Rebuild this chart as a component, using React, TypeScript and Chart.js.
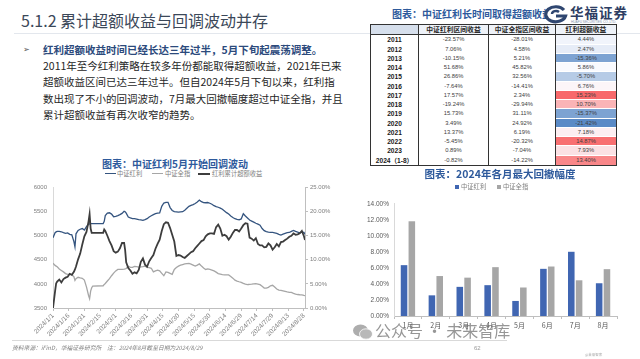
import React, { useEffect, useRef } from 'react';
import { Chart, registerables } from 'chart.js';

Chart.register(...registerables);

// ---------------- line chart data ----------------
const lineDates = [
  '2024/1/1', '2024/1/3', '2024/1/4', '2024/1/5', '2024/1/7', '2024/1/9', '2024/1/11', '2024/1/13', '2024/1/15', '2024/1/17', '2024/1/19', '2024/1/21', '2024/1/22', '2024/1/23', '2024/1/25', '2024/1/27', '2024/1/29', '2024/1/31',
  '2024/2/2', '2024/2/4', '2024/2/5', '2024/2/6', '2024/2/7', '2024/2/8', '2024/2/18', '2024/2/19', '2024/2/20', '2024/2/22', '2024/2/24', '2024/2/26', '2024/2/28',
  '2024/3/1', '2024/3/3', '2024/3/5', '2024/3/7', '2024/3/9', '2024/3/10', '2024/3/11', '2024/3/13', '2024/3/15', '2024/3/17', '2024/3/19', '2024/3/21', '2024/3/23', '2024/3/25', '2024/3/27', '2024/3/29', '2024/3/31',
  '2024/4/2', '2024/4/4', '2024/4/6', '2024/4/8', '2024/4/10', '2024/4/12', '2024/4/14', '2024/4/16', '2024/4/18', '2024/4/20', '2024/4/22', '2024/4/24', '2024/4/26', '2024/4/28', '2024/4/30',
  '2024/5/2', '2024/5/4', '2024/5/6', '2024/5/8', '2024/5/10', '2024/5/12', '2024/5/14', '2024/5/16', '2024/5/18', '2024/5/20', '2024/5/22', '2024/5/24', '2024/5/26', '2024/5/28', '2024/5/30',
  '2024/6/1', '2024/6/3', '2024/6/5', '2024/6/7', '2024/6/9', '2024/6/11', '2024/6/13', '2024/6/15', '2024/6/17', '2024/6/19', '2024/6/21', '2024/6/23', '2024/6/25', '2024/6/27', '2024/6/29',
  '2024/7/1', '2024/7/3', '2024/7/5', '2024/7/6', '2024/7/7', '2024/7/9', '2024/7/11', '2024/7/13', '2024/7/15', '2024/7/17', '2024/7/19', '2024/7/21', '2024/7/23', '2024/7/25', '2024/7/27', '2024/7/29', '2024/7/31',
  '2024/8/2', '2024/8/4', '2024/8/6', '2024/8/8', '2024/8/10', '2024/8/12', '2024/8/14', '2024/8/16', '2024/8/18', '2024/8/20', '2024/8/22', '2024/8/24', '2024/8/26', '2024/8/28', '2024/8/29',
];

// 中证红利 (left axis)
const dividendIndex = [
  4960, 5065, 5080, 5090, 5093, 5083, 5065, 5050, 5060, 5030, 5018, 4880, 4770, 5040, 5110, 5135, 5150, 5120,
  5190, 5240, 5245, 5253, 5253, 5253, 5253, 5300, 5420, 5470, 5478, 5450, 5395,
  5402, 5420, 5440, 5465, 5508, 5500, 5470, 5390, 5370, 5354, 5354, 5345, 5334, 5328, 5320, 5335, 5354,
  5390, 5415, 5440, 5460, 5470, 5475, 5610, 5680, 5694, 5694, 5585, 5525, 5500, 5495, 5490,
  5495, 5500, 5530, 5570, 5610, 5630, 5647, 5670, 5700, 5740, 5708, 5690, 5685, 5690, 5675,
  5655, 5625, 5605, 5592, 5575, 5550, 5515, 5480, 5450, 5410, 5380, 5354, 5340, 5330, 5350,
  5456, 5410, 5370, 5350, 5328, 5305, 5283, 5260, 5240, 5219, 5150, 5105, 5085, 5075, 5069, 5069, 5060,
  5048, 5030, 5015, 5032, 5050, 5063, 5068, 5090, 5110, 5090, 5075, 5062, 5075, 5070, 5030,
];

// 中证全指 (left axis)
const allShareIndex = [
  4430, 4385, 4370, 4355, 4310, 4280, 4250, 4215, 4200, 4200, 4190, 4150, 4075, 4110, 4137, 4125, 4118, 4080,
  3940, 3760, 3695, 3850, 3920, 3955, 3962, 3990, 4010, 4060, 4110, 4170, 4225,
  4270, 4300, 4302, 4300, 4305, 4312, 4320, 4365, 4345, 4345, 4365, 4360, 4350, 4352, 4360, 4370, 4345,
  4340, 4325, 4250, 4270, 4285, 4270, 4220, 4170, 4250, 4240, 4220, 4200, 4300, 4340, 4370,
  4390, 4403, 4415, 4420, 4424, 4410, 4390, 4370, 4390, 4415, 4370, 4330, 4300, 4310, 4300,
  4288, 4270, 4245, 4215, 4205, 4195, 4188, 4186, 4186, 4155, 4120, 4077, 4060, 4045, 4032,
  4010, 3995, 3985, 3988, 3990, 3996, 4003, 4005, 3998, 3985, 3950, 3915, 3912, 3928, 3960, 3972, 3935,
  3895, 3872, 3865, 3855, 3846, 3835, 3826, 3826, 3805, 3790, 3780, 3775, 3772, 3760, 3755,
];

// 红利累计超额收益 (%; right axis)
const cumulativeExcess = [
  0, 3.5, 5.1, 5.5, 5.9, 5.3, 6.0, 6.3, 6.5, 7.1, 6.9, 7.5, 8.0, 8.6, 10.1, 11.3, 13.2, 14.9,
  15.8, 18.0, 19.5, 16.5, 15.6, 15.6, 15.6, 16.3, 16.0, 15.0, 13.9, 13.0, 11.8,
  11.5, 11.7, 12.4, 13.5, 13.5, 12.0, 9.5, 8.3, 7.8, 7.1, 7.4, 7.2, 7.9, 9.6, 10.3, 9.0, 8.6,
  9.7, 10.4, 11.0, 12.3, 13.3, 14.2, 16.0, 17.4, 17.8, 17.7, 16.6, 15.2, 13.8, 10.8, 11.0,
  10.9, 10.6, 10.4, 10.8, 11.2, 11.6, 11.8, 12.4, 12.9, 13.4, 13.9, 14.1, 14.9, 15.3, 15.5,
  15.5, 15.4, 16.8, 17.3, 16.5, 15.0, 15.2, 14.9, 14.2, 14.8, 15.6, 16.2, 16.2, 15.9, 16.5,
  17.2, 17.6, 17.5, 16.0, 14.6, 14.4, 14.0, 14.5, 13.3, 13.0, 13.0, 12.6, 12.7, 13.4, 13.0, 12.1, 12.6,
  13.3, 12.8, 13.7, 13.8, 14.1, 14.4, 14.8, 15.0, 15.5, 15.2, 15.3, 15.5, 16.0, 14.9, 14.1,
];

const lineTickLabels = [
  '2024/1/1', '2024/1/16', '2024/1/31', '2024/2/15', '2024/3/1', '2024/3/16', '2024/3/31', '2024/4/15', '2024/4/30',
  '2024/5/15', '2024/5/30', '2024/6/14', '2024/6/29', '2024/7/14', '2024/7/29', '2024/8/13', '2024/8/28',
];
const lineAxisEnd = '2024/8/29';

// ---------------- bar chart data ----------------
const barMonths = ['1月', '2月', '3月', '4月', '5月', '6月', '7月', '8月'];
const barDividend = [6.35, 2.58, 3.64, 3.85, 1.88, 5.89, 8.02, 4.09];
const barAllShare = [11.83, 4.99, 4.79, 6.10, 3.56, 6.18, 4.46, 5.85];

// ---------------- table data ----------------
const tableHeaders = ['', '中证红利区间收益', '中证全指区间收益', '红利超额收益'];
const tableYears = ['2011', '2012', '2013', '2014', '2015', '2016', '2017', '2018', '2019', '2020', '2021', '2022', '2023', '2024（1-8）'];
const tableDividend = [-23.57, 7.06, -10.15, 51.68, 26.86, -7.64, 17.57, -19.24, 15.73, 3.49, 13.37, -5.45, 0.89, -0.82];
const tableAllShare = [-28.01, 4.58, 5.21, 45.82, 32.56, -14.41, 2.34, -29.94, 31.11, 24.92, 6.19, -20.32, -7.04, -14.22];
const tableExcess = [4.44, 2.47, -15.36, 5.86, -5.70, 6.76, 15.23, 10.70, -15.37, -21.42, 7.18, 14.87, 7.93, 13.40];

// ---------------- helpers ----------------
const CJK = '"Noto Sans CJK SC", "Liberation Sans", sans-serif';
const NUM = '"Liberation Sans", "Noto Sans CJK SC", sans-serif';

function dayOf(s: string): number {
  const [y, m, d] = s.split('/').map(Number);
  return Math.round((Date.UTC(y, m - 1, d) - Date.UTC(2024, 0, 1)) / 86400000);
}

function heatColor(v: number): string {
  const sorted = [...tableExcess].sort((a, b) => a - b);
  const n = sorted.length;
  const mid = n % 2 ? sorted[(n - 1) / 2] : (sorted[n / 2 - 1] + sorted[n / 2]) / 2;
  const min = sorted[0];
  const max = sorted[n - 1];
  const white = [252, 252, 255];
  const red = [248, 105, 107];
  const blue = [90, 138, 198];
  let t: number;
  let target: number[];
  if (v >= mid) {
    t = (v - mid) / (max - mid);
    target = red;
  } else {
    t = (mid - v) / (mid - min);
    target = blue;
  }
  const c = white.map((w, i) => Math.round(w + (target[i] - w) * t));
  return `rgb(${c[0]},${c[1]},${c[2]})`;
}

const pct = (v: number) => v.toFixed(2) + '%';

// ---------------- components ----------------
function LineChart() {
  const ref = useRef<HTMLCanvasElement>(null);
  useEffect(() => {
    const xs = lineDates.map(dayOf);
    const tickFont = { family: NUM, size: 6 };
    const chart = new Chart(ref.current as HTMLCanvasElement, {
      type: 'line',
      data: {
        datasets: [
          {
            label: '中证红利',
            data: xs.map((x, i) => ({ x, y: dividendIndex[i] })),
            borderColor: '#34547F',
            borderWidth: 1.3,
            pointRadius: 0,
            yAxisID: 'y',
            order: 1,
          },
          {
            label: '中证全指',
            data: xs.map((x, i) => ({ x, y: allShareIndex[i] })),
            borderColor: '#A6A6A6',
            borderWidth: 1.3,
            pointRadius: 0,
            yAxisID: 'y',
            order: 2,
          },
          {
            label: '红利累计超额收益',
            data: xs.map((x, i) => ({ x, y: cumulativeExcess[i] })),
            borderColor: '#3D3D3D',
            borderWidth: 1.8,
            pointRadius: 0,
            yAxisID: 'y1',
            order: 0,
          },
        ],
      },
      options: {
        animation: false,
        responsive: false,
        maintainAspectRatio: false,
        layout: { padding: { top: 7, left: 0, right: 0, bottom: 0 } },
        plugins: { legend: { display: false }, tooltip: { enabled: false } },
        scales: {
          x: {
            type: 'linear',
            min: dayOf(lineDates[0]),
            max: dayOf(lineAxisEnd),
            afterBuildTicks: (s: any) => {
              s.ticks = lineTickLabels.map((l) => ({ value: dayOf(l) }));
            },
            ticks: {
              autoSkip: false,
              minRotation: 45,
              maxRotation: 45,
              padding: 1,
              font: { family: NUM, size: 6.5 },
              color: '#7F7F7F',
              callback: (_v: any, i: number) => lineTickLabels[i],
            },
            grid: { display: true, drawOnChartArea: false, tickLength: 3, color: '#BFBFBF' },
            border: { color: '#BFBFBF' },
            afterFit: (s: any) => {
              s.height = 35;
            },
          },
          y: {
            position: 'left',
            min: 3500,
            max: 6000,
            ticks: {
              stepSize: 500,
              font: tickFont,
              color: '#7F7F7F',
              padding: 6,
              callback: (v: any) => String(v),
            },
            grid: { display: false, drawTicks: false },
            border: { color: '#D9D9D9' },
            afterFit: (s: any) => {
              s.width = 53;
            },
          },
          y1: {
            position: 'right',
            min: 0,
            max: 25,
            ticks: {
              stepSize: 5,
              font: tickFont,
              color: '#7F7F7F',
              padding: 2,
              callback: (v: any) => Number(v).toFixed(2) + '%',
            },
            grid: { display: true, drawOnChartArea: false, tickLength: 3, color: '#BFBFBF' },
            border: { color: '#BFBFBF' },
            afterFit: (s: any) => {
              s.width = 40;
            },
          },
        },
      },
    } as any);
    return () => chart.destroy();
  }, []);
  return (
    <canvas
      ref={ref}
      width={345}
      height={165}
      style={{ position: 'absolute', left: 0, top: 178, width: 345, height: 165 }}
    />
  );
}

function BarChart() {
  const ref = useRef<HTMLCanvasElement>(null);
  useEffect(() => {
    const chart = new Chart(ref.current as HTMLCanvasElement, {
      type: 'bar',
      data: {
        labels: barMonths,
        datasets: [
          {
            label: '中证红利',
            data: barDividend,
            backgroundColor: '#4066B2',
            categoryPercentage: 0.56,
            barPercentage: 0.84,
          },
          {
            label: '中证全指',
            data: barAllShare,
            backgroundColor: '#A6A6A6',
            categoryPercentage: 0.56,
            barPercentage: 0.84,
          },
        ],
      },
      options: {
        animation: false,
        responsive: false,
        maintainAspectRatio: false,
        layout: { padding: { top: 7, right: 13, left: 0, bottom: 0 } },
        plugins: { legend: { display: false }, tooltip: { enabled: false } },
        scales: {
          x: {
            grid: { display: true, drawOnChartArea: false, tickLength: 3, color: '#BFBFBF' },
            border: { color: '#BFBFBF' },
            ticks: { font: { family: CJK, size: 7 }, color: '#595959', padding: 2 },
            afterFit: (s: any) => {
              s.height = 20;
            },
          },
          y: {
            min: 0,
            max: 14,
            ticks: {
              stepSize: 2,
              font: { family: NUM, size: 6.5 },
              color: '#595959',
              padding: 5,
              callback: (v: any) => Number(v).toFixed(2) + '%',
            },
            grid: { display: false, drawTicks: false },
            border: { color: '#D9D9D9' },
            afterFit: (s: any) => {
              s.width = 54;
            },
          },
        },
      },
    } as any);
    return () => chart.destroy();
  }, []);
  return (
    <canvas
      ref={ref}
      width={290}
      height={141}
      style={{ position: 'absolute', left: 340, top: 195, width: 290, height: 141 }}
    />
  );
}

function DataTable() {
  const colW = [48, 70, 67, 60];
  const headerH = 9.3;
  const rowH = 9.26;
  const cellBase: React.CSSProperties = {
    boxSizing: 'border-box',
    textAlign: 'center',
    whiteSpace: 'nowrap',
    overflow: 'hidden',
  };
  return (
    <div
      style={{
        position: 'absolute',
        left: 370,
        top: 24,
        width: colW.reduce((a, b) => a + b, 0) + 2,
        border: '1px solid #333',
        boxSizing: 'border-box',
        background: '#fff',
      }}
    >
      <div style={{ display: 'flex', height: headerH, borderBottom: '1px solid #333', boxSizing: 'content-box' }}>
        {tableHeaders.map((h, i) => (
          <div
            key={i}
            style={{
              ...cellBase,
              width: colW[i],
              height: headerH,
              lineHeight: headerH + 'px',
              fontFamily: CJK,
              fontSize: 6.8,
              fontWeight: 700,
              color: '#262626',
              background: i === 0 ? '#D6DFEC' : '#EEF2F8',
              borderRight: i < 3 ? '1px solid #333' : 'none',
            }}
          >
            {h}
          </div>
        ))}
      </div>
      {tableYears.map((y, r) => (
        <div key={y} style={{ display: 'flex', height: rowH }}>
          <div
            style={{
              ...cellBase,
              width: colW[0],
              lineHeight: rowH + 'px',
              fontFamily: NUM,
              fontSize: 6.6,
              fontWeight: 700,
              color: '#1a1a1a',
              borderRight: '1px solid #333',
            }}
          >
            {y}
          </div>
          <div
            style={{
              ...cellBase,
              width: colW[1],
              lineHeight: rowH + 'px',
              fontFamily: NUM,
              fontSize: 5.8,
              color: '#404040',
              borderRight: '1px solid #333',
            }}
          >
            {pct(tableDividend[r])}
          </div>
          <div
            style={{
              ...cellBase,
              width: colW[2],
              lineHeight: rowH + 'px',
              fontFamily: NUM,
              fontSize: 5.8,
              color: '#404040',
              borderRight: '1px solid #333',
            }}
          >
            {pct(tableAllShare[r])}
          </div>
          <div
            style={{
              ...cellBase,
              width: colW[3],
              lineHeight: rowH + 'px',
              fontFamily: NUM,
              fontSize: 5.8,
              color: '#404040',
              background: heatColor(tableExcess[r]),
              borderBottom: r < tableYears.length - 1 ? '0.5px solid #fff' : 'none',
            }}
          >
            {pct(tableExcess[r])}
          </div>
        </div>
      ))}
    </div>
  );
}

function Logo() {
  return (
    <div style={{ position: 'absolute', left: 543, top: 3, width: 97, height: 24, background: 'transparent' }}>
      <svg width="26" height="20" viewBox="0 0 26 20" style={{ position: 'absolute', left: 0, top: 1 }}>
        <ellipse cx="13" cy="10" rx="11.5" ry="8.5" fill="#fff" />
        <path d="M21 6 A10 7.5 0 1 0 22.5 12 L13 12" fill="none" stroke="#2F4670" strokeWidth="3.2" />
        <path d="M9 10 A4 3 0 0 1 16 8" fill="none" stroke="#2F4670" strokeWidth="2.4" />
      </svg>
      <div
        style={{
          position: 'absolute',
          left: 27,
          top: 0,
          fontFamily: CJK,
          fontSize: 13.5,
          fontWeight: 700,
          color: '#2E3E63',
          letterSpacing: 1,
          lineHeight: '18px',
          whiteSpace: 'nowrap',
        }}
      >
        华福证券
      </div>
      <div
        style={{
          position: 'absolute',
          left: 28,
          top: 17,
          fontFamily: NUM,
          fontSize: 3.2,
          color: '#8090AA',
          whiteSpace: 'nowrap',
        }}
      >
        HUAFU SECURITIES CO.,LTD.
      </div>
    </div>
  );
}

export default function App() {
  const abs = (left: number, top: number, extra: React.CSSProperties = {}): React.CSSProperties => ({
    position: 'absolute',
    left,
    top,
    whiteSpace: 'nowrap',
    ...extra,
  });
  const bodyText: React.CSSProperties = {
    fontFamily: CJK,
    fontSize: 10.5,
    lineHeight: '16px',
    color: '#262626',
  };
  const legendText: React.CSSProperties = {
    fontFamily: CJK,
    fontSize: 6.3,
    lineHeight: '8px',
    color: '#7F7F7F',
  };
  return (
    <div
      style={{
        position: 'fixed',
        left: 0,
        top: 0,
        width: 640,
        height: 359,
        background: '#ffffff',
        overflow: 'hidden',
      }}
    >
      {/* slide title */}
      <div style={abs(21, 9, { fontFamily: CJK, fontSize: 16, lineHeight: '22px', color: '#3B4859' })}>
        5.1.2 累计超额收益与回调波动并存
      </div>
      <div style={abs(14, 33, { width: 626, height: 1, background: '#E3E7ED' })} />

      {/* bullet text */}
      <div style={abs(23, 42, { fontFamily: '"DejaVu Sans", sans-serif', fontSize: 8, lineHeight: '16px', color: '#555' })}>➢</div>
      <div style={abs(43, 42, { ...bodyText, color: '#2C4A7C', fontWeight: 700 })}>
        红利超额收益时间已经长达三年过半，5月下旬起震荡调整。
      </div>
      <div style={abs(43, 58, bodyText)}>2011年至今红利策略在较多年份都能取得超额收益，2021年已来</div>
      <div style={abs(43, 74, bodyText)}>超额收益区间已达三年过半。但自2024年5月下旬以来，红利指</div>
      <div style={abs(43, 91, bodyText)}>数出现了不小的回调波动，7月最大回撤幅度超过中证全指，并且</div>
      <div style={abs(43, 107, bodyText)}>累计超额收益有再次收窄的趋势。</div>

      {/* table */}
      <div style={abs(392, 7, { fontFamily: CJK, fontSize: 10, fontWeight: 700, lineHeight: '14px', color: '#2E5A9C' })}>
        图表：中证红利长时间取得超额收益
      </div>
      <Logo />
      <DataTable />

      {/* line chart */}
      <div style={abs(0, 157, { width: 350, textAlign: 'center', fontFamily: CJK, fontSize: 10, fontWeight: 700, lineHeight: '14px', color: '#2E5A9C' })}>
        图表：中证红利5月开始回调波动
      </div>
      <div style={abs(105, 173, { width: 11, height: 1.3, background: '#34547F' })} />
      <div style={abs(117, 170, legendText)}>中证红利</div>
      <div style={abs(152, 173, { width: 11, height: 1.3, background: '#A6A6A6' })} />
      <div style={abs(165, 170, legendText)}>中证全指</div>
      <div style={abs(198, 173, { width: 12, height: 1.8, background: '#3D3D3D' })} />
      <div style={abs(212, 170, legendText)}>红利累计超额收益</div>
      <LineChart />

      {/* bar chart */}
      <div style={abs(330, 167, { width: 340, textAlign: 'center', fontFamily: CJK, fontSize: 10.5, fontWeight: 700, lineHeight: '14px', color: '#2E5A9C' })}>
        图表：2024年各月最大回撤幅度
      </div>
      <div style={abs(455, 185, { width: 4, height: 4, background: '#4066B2' })} />
      <div style={abs(461, 183, legendText)}>中证红利</div>
      <div style={abs(497, 185, { width: 4, height: 4, background: '#A6A6A6' })} />
      <div style={abs(503, 183, legendText)}>中证全指</div>
      <BarChart />

      {/* footer */}
      <div style={abs(12, 340, { width: 495, height: 1, background: '#D9D9D9' })} />
      <div style={abs(12, 344, { fontFamily: CJK, fontSize: 5.8, fontStyle: 'italic', lineHeight: '8px', color: '#808080' })}>
        资料来源：iFinD，华福证券研究所　注：2024年8月截至日期为2024/8/29
      </div>
      <div style={abs(474, 344, { fontFamily: NUM, fontSize: 6, lineHeight: '8px', color: '#999' })}>62</div>
      <div style={abs(585, 352, { fontFamily: CJK, fontSize: 3.5, lineHeight: '5px', color: '#aaa' })}>@未来智库</div>

      {/* watermark */}
      <svg width="22" height="18" viewBox="0 0 22 18" style={{ position: 'absolute', left: 352, top: 323, opacity: 0.7 }}>
        <ellipse cx="8.5" cy="7.5" rx="7.5" ry="6" fill="#8a8a8a" />
        <ellipse cx="14" cy="11" rx="6.5" ry="5.2" fill="#9a9a9a" stroke="#fff" strokeWidth="0.8" />
      </svg>
      <div style={abs(375, 320, { fontFamily: CJK, fontSize: 16, lineHeight: '20px', color: 'rgba(110,110,110,0.72)' })}>
        公众号 · 未来智库
      </div>
    </div>
  );
}
